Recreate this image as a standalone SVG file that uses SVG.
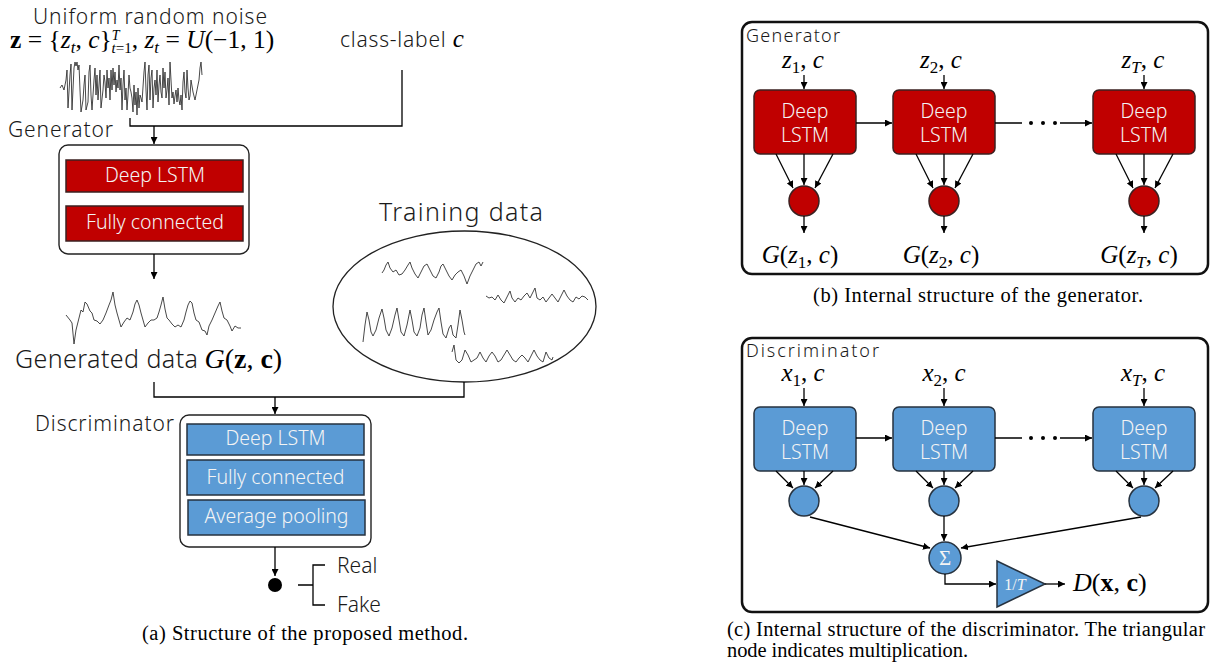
<svg xmlns="http://www.w3.org/2000/svg" width="1231" height="668" viewBox="0 0 1231 668">
<defs>
<style>
.s{font-family:"Noto Sans","Liberation Sans",sans-serif;font-weight:300;fill:#1a1a1a}
.w{font-family:"Noto Sans","Liberation Sans",sans-serif;font-weight:300;fill:#f4f4f4}
.m{font-family:"Liberation Serif","DejaVu Serif",serif;font-style:italic;fill:#000}
.n{font-style:normal}
.cap{font-family:"Liberation Serif","Times New Roman",serif;font-size:20.5px;fill:#000}
.ln{fill:none;stroke:#000;stroke-width:1.3}
.wave{fill:none;stroke:#333;stroke-width:0.9;stroke-linejoin:round}
.red{fill:#C00000;stroke:#3b2020;stroke-width:1.5}
.blue{fill:#5B9BD5;stroke:#26323f;stroke-width:1.5}
.frame{fill:#fff;stroke:#222;stroke-width:1.4}
.panel{fill:none;stroke:#111;stroke-width:2.5}
</style>
<marker id="ah" viewBox="0 0 10 10" refX="10" refY="5" markerWidth="7" markerHeight="7" markerUnits="userSpaceOnUse" orient="auto"><path d="M0,0 L10,5 L0,10 z" fill="#000"/></marker>
</defs>
<rect width="1231" height="668" fill="#fff"/>

<!-- ===== Panel (a) ===== -->
<g id="noise">
<text class="s" x="33" y="24" font-size="21" textLength="234" lengthAdjust="spacing">Uniform random noise</text>
<text class="m" x="10" y="48" font-size="25.5"><tspan class="n" font-weight="bold">z</tspan><tspan class="n"> = {</tspan>z<tspan font-size="17" dy="5">t</tspan><tspan class="n" dy="-5">, </tspan>c<tspan class="n">}</tspan><tspan font-size="14" dy="-8">T</tspan><tspan font-size="15" dx="-8" dy="13">t</tspan><tspan class="n" font-size="15">=1</tspan><tspan class="n" dy="-5">, </tspan>z<tspan font-size="17" dy="5">t</tspan><tspan class="n" dy="-5"> = </tspan>U<tspan class="n">(−1, 1)</tspan></text>
<polyline class="wave" points="60,88 62,85 64,90 66,80 67,70 68,108 70,75 71,64 72,110 74,68 75,62 76,66 77,62 78,70 79,65 80,90 81,112 83,100 84,85 85,75 86,110 88,102 89,72 90,65 91,95 92,110 94,80 95,68 96,95 97,75 98,100 99,85 100,70 101,108 103,90 104,75 105,82 106,98 107,70 108,88 109,78 110,100 111,70 112,90 113,68 114,85 115,72 116,92 117,80 118,88 119,65 120,90 121,78 122,110 123,85 124,70 125,100 126,88 127,110 128,95 129,75 130,88 131,92 132,98 133,112 134,85 135,105 136,92 137,115 138,88 139,108 140,95 141,98 142,102 144,72 145,62 146,90 147,110 148,75 149,65 150,100 151,78 152,70 153,108 154,88 155,80 156,95 157,70 158,102 159,85 160,75 161,92 162,98 163,68 164,88 165,72 166,98 167,90 168,78 169,105 170,62 171,80 172,98 173,92 174,104 175,96 176,90 177,102 178,88 179,100 180,105 181,95 182,110 183,82 184,72 185,92 186,98 187,70 188,88 189,100 190,96 191,80 193,92 195,100 197,90 199,80 200,68 201,62 202,75"/>
</g>
<g id="class-label">
<text x="340" y="47" font-size="21"><tspan class="s" textLength="112">class-label </tspan><tspan class="m" font-size="25">c</tspan></text>
</g>

<g id="generator-a">
<text class="s" x="8" y="137" font-size="21" textLength="105" lengthAdjust="spacing">Generator</text>
<rect class="frame" x="59" y="145" width="190" height="109" rx="9"/>
<rect class="red" x="66" y="160" width="177" height="32"/>
<text class="w" x="155" y="182" font-size="19.5" text-anchor="middle">Deep LSTM</text>
<rect class="red" x="66" y="206" width="177" height="35"/>
<text class="w" x="155" y="229" font-size="19.5" text-anchor="middle">Fully connected</text>
</g>

<g id="generated-data">
<polyline class="wave" points="66,315 70,320 72,323 74,344 76,330 79,318 81,310 83,312 85,302 87,304 90,311 92,313 94,320 97,321 100,324 103,320 106,313 109,305 111,300 113,292 115,305 117,313 119,320 121,327 124,322 127,318 130,320 133,312 135,304 137,300 139,305 141,313 143,320 145,327 148,323 151,320 154,320 157,318 159,312 161,305 163,297 165,309 167,318 169,320 172,324 175,327 178,325 181,327 184,320 186,312 188,305 190,301 192,303 194,313 196,320 199,322 202,330 205,331 207,335 209,326 212,320 215,313 218,306 220,302 222,311 224,318 227,320 230,326 232,331 235,326 238,328 241,328"/>
<text x="15" y="368" font-size="25"><tspan class="s" textLength="183" lengthAdjust="spacing">Generated data</tspan><tspan class="m" font-size="28" dx="6">G</tspan><tspan class="m n" font-size="28">(</tspan><tspan class="m n" font-size="28" font-weight="bold">z</tspan><tspan class="m n" font-size="28">, </tspan><tspan class="m n" font-size="28" font-weight="bold">c</tspan><tspan class="m n" font-size="28">)</tspan></text>
</g>

<g id="training-data">
<text class="s" x="379" y="221" font-size="25" textLength="164" lengthAdjust="spacing">Training data</text>
<ellipse cx="464.5" cy="306.5" rx="131.5" ry="75.5" fill="none" stroke="#222" stroke-width="1.3"/>
<polyline class="wave" points="382,273 384,270 386,265 388,262 390,268 393,272 396,270 399,275 402,274 405,270 408,265 410,262 412,268 415,274 418,278 421,272 424,266 427,264 430,270 433,276 436,278 439,272 441,266 443,264 446,270 449,276 452,280 455,275 458,272 461,270 464,276 467,284 470,276 473,270 476,264 479,262 481,266 483,262"/>
<polyline class="wave" points="486,296 489,298 492,297 495,300 498,295 501,300 504,303 507,297 510,291 512,298 515,302 518,298 521,300 524,296 527,293 530,298 533,292 535,288 537,298 540,300 543,297 546,302 549,298 552,294 555,298 558,302 561,296 564,290 567,296 570,300 573,302 576,297 579,299 582,296 585,297 588,300"/>
<polyline class="wave" points="363,342 365,325 367,312 369,320 371,332 373,336 376,330 379,318 382,309 384,318 386,330 389,336 392,328 395,315 397,308 399,320 401,332 404,336 407,325 410,310 412,320 414,332 417,336 420,328 422,315 424,308 426,322 428,335 431,330 434,320 437,312 439,308 441,322 443,334 446,338 449,328 451,325 453,335 456,338 458,325 460,310 462,320 464,332 465,335"/>
<polyline class="wave" points="452,352 454,345 456,360 459,363 462,360 465,350 468,355 471,362 474,360 477,358 480,352 483,358 486,362 489,356 492,352 495,356 498,362 501,360 504,355 507,350 510,355 513,360 516,362 519,358 522,355 525,358 528,362 531,356 534,350 537,356 540,360 543,362 546,352 549,358 552,360 553,357"/>
</g>

<g id="discriminator-a">
<text class="s" x="35" y="431" font-size="21" textLength="139" lengthAdjust="spacing">Discriminator</text>
<rect class="frame" x="180" y="415" width="191" height="132" rx="9"/>
<rect class="blue" x="187" y="424" width="177" height="31"/>
<text class="w" x="275.5" y="445" font-size="19.5" text-anchor="middle">Deep LSTM</text>
<rect class="blue" x="187" y="460" width="177" height="35"/>
<text class="w" x="275.5" y="484" font-size="19.5" text-anchor="middle">Fully connected</text>
<rect class="blue" x="188" y="500" width="177" height="35"/>
<text class="w" x="276.5" y="523" font-size="19.5" text-anchor="middle">Average pooling</text>
</g>

<g id="output-a">
<circle cx="275" cy="585" r="7" fill="#000"/>
<path class="ln" d="M298,585 H313 M325,565 H313 V605 H325"/>
<text class="s" x="337" y="573" font-size="21">Real</text>
<text class="s" x="337" y="612" font-size="21">Fake</text>
</g>

<g id="connectors-a">
<path class="ln" d="M130,118 V126 H402 V70"/>
<path class="ln" d="M154,126 V144" marker-end="url(#ah)"/>
<path class="ln" d="M154,254 V279" marker-end="url(#ah)"/>
<path class="ln" d="M154,382 V397 H464 V382"/>
<path class="ln" d="M275,397 V414" marker-end="url(#ah)"/>
<path class="ln" d="M275,547 V576" marker-end="url(#ah)"/>
</g>

<text class="cap" x="142" y="640" textLength="326" lengthAdjust="spacing">(a) Structure of the proposed method.</text>

<!-- ===== Panel (b) ===== -->
<g id="panel-b">
<rect class="panel" x="742" y="22" width="466" height="252" rx="10"/>
<text class="s" x="746" y="42" font-size="18" textLength="94" lengthAdjust="spacing">Generator</text>
</g>
<g id="gen-inputs">
<text class="m" x="803" y="68" font-size="25" text-anchor="middle">z<tspan class="n" font-size="17" dy="5">1</tspan><tspan class="n" dy="-5">, </tspan>c</text>
<text class="m" x="941" y="68" font-size="25" text-anchor="middle">z<tspan class="n" font-size="17" dy="5">2</tspan><tspan class="n" dy="-5">, </tspan>c</text>
<text class="m" x="1143" y="68" font-size="25" text-anchor="middle">z<tspan font-size="17" dy="5">T</tspan><tspan class="n" dy="-5">, </tspan>c</text>
</g>
<g id="gen-lstm-1">
<rect class="red" x="754" y="90" width="102" height="64" rx="6"/>
<text class="w" x="805" y="118" font-size="19.5" text-anchor="middle">Deep</text>
<text class="w" x="805" y="142" font-size="19.5" text-anchor="middle">LSTM</text>
<circle class="red" cx="804" cy="201" r="15"/>
</g>
<g id="gen-lstm-2">
<rect class="red" x="893" y="90" width="102" height="64" rx="6"/>
<text class="w" x="944" y="118" font-size="19.5" text-anchor="middle">Deep</text>
<text class="w" x="944" y="142" font-size="19.5" text-anchor="middle">LSTM</text>
<circle class="red" cx="944" cy="201" r="15"/>
</g>
<g id="gen-lstm-T">
<rect class="red" x="1093" y="90" width="102" height="64" rx="6"/>
<text class="w" x="1144" y="118" font-size="19.5" text-anchor="middle">Deep</text>
<text class="w" x="1144" y="142" font-size="19.5" text-anchor="middle">LSTM</text>
<circle class="red" cx="1144" cy="201" r="15"/>
</g>
<g id="gen-outputs">
<text class="m" x="800" y="263" font-size="25" text-anchor="middle">G<tspan class="n">(</tspan>z<tspan class="n" font-size="17" dy="5">1</tspan><tspan class="n" dy="-5">, </tspan>c<tspan class="n">)</tspan></text>
<text class="m" x="941" y="263" font-size="25" text-anchor="middle">G<tspan class="n">(</tspan>z<tspan class="n" font-size="17" dy="5">2</tspan><tspan class="n" dy="-5">, </tspan>c<tspan class="n">)</tspan></text>
<text class="m" x="1139" y="263" font-size="25" text-anchor="middle">G<tspan class="n">(</tspan>z<tspan font-size="17" dy="5">T</tspan><tspan class="n" dy="-5">, </tspan>c<tspan class="n">)</tspan></text>
</g>
<g id="connectors-b">
<path class="ln" d="M804,75 V89" marker-end="url(#ah)"/>
<path class="ln" d="M944,75 V89" marker-end="url(#ah)"/>
<path class="ln" d="M1144,75 V89" marker-end="url(#ah)"/>
<path class="ln" d="M856,123 H892" marker-end="url(#ah)"/>
<path class="ln" d="M995,123 H1022 M1060,123 H1092" marker-end="url(#ah)"/>
<circle cx="1031" cy="123" r="2" fill="#000"/><circle cx="1043" cy="123" r="2" fill="#000"/><circle cx="1055" cy="123" r="2" fill="#000"/>
<path class="ln" d="M776,154 L793,188" marker-end="url(#ah)"/>
<path class="ln" d="M804,154 V185" marker-end="url(#ah)"/>
<path class="ln" d="M833,154 L815,188" marker-end="url(#ah)"/>
<path class="ln" d="M916,154 L933,188" marker-end="url(#ah)"/>
<path class="ln" d="M944,154 V185" marker-end="url(#ah)"/>
<path class="ln" d="M973,154 L955,188" marker-end="url(#ah)"/>
<path class="ln" d="M1116,154 L1133,188" marker-end="url(#ah)"/>
<path class="ln" d="M1144,154 V185" marker-end="url(#ah)"/>
<path class="ln" d="M1173,154 L1155,188" marker-end="url(#ah)"/>
<path class="ln" d="M804,216 V233" marker-end="url(#ah)"/>
<path class="ln" d="M944,216 V233" marker-end="url(#ah)"/>
<path class="ln" d="M1144,216 V233" marker-end="url(#ah)"/>
</g>
<text class="cap" x="813" y="302" textLength="330" lengthAdjust="spacing">(b) Internal structure of the generator.</text>

<!-- ===== Panel (c) ===== -->
<g id="panel-c">
<rect class="panel" x="742" y="338" width="466" height="274" rx="10"/>
<text class="s" x="746" y="357" font-size="18" textLength="133" lengthAdjust="spacing">Discriminator</text>
</g>
<g id="disc-inputs">
<text class="m" x="803" y="381" font-size="25" text-anchor="middle">x<tspan class="n" font-size="17" dy="5">1</tspan><tspan class="n" dy="-5">, </tspan>c</text>
<text class="m" x="944" y="381" font-size="25" text-anchor="middle">x<tspan class="n" font-size="17" dy="5">2</tspan><tspan class="n" dy="-5">, </tspan>c</text>
<text class="m" x="1143" y="381" font-size="25" text-anchor="middle">x<tspan font-size="17" dy="5">T</tspan><tspan class="n" dy="-5">, </tspan>c</text>
</g>
<g id="disc-lstm-1">
<rect class="blue" x="754" y="407" width="102" height="64" rx="6"/>
<text class="w" x="805" y="435" font-size="19.5" text-anchor="middle">Deep</text>
<text class="w" x="805" y="459" font-size="19.5" text-anchor="middle">LSTM</text>
<circle class="blue" cx="804" cy="501" r="15"/>
</g>
<g id="disc-lstm-2">
<rect class="blue" x="893" y="407" width="102" height="64" rx="6"/>
<text class="w" x="944" y="435" font-size="19.5" text-anchor="middle">Deep</text>
<text class="w" x="944" y="459" font-size="19.5" text-anchor="middle">LSTM</text>
<circle class="blue" cx="944" cy="501" r="15"/>
</g>
<g id="disc-lstm-T">
<rect class="blue" x="1093" y="407" width="102" height="64" rx="6"/>
<text class="w" x="1144" y="435" font-size="19.5" text-anchor="middle">Deep</text>
<text class="w" x="1144" y="459" font-size="19.5" text-anchor="middle">LSTM</text>
<circle class="blue" cx="1144" cy="501" r="15"/>
</g>
<g id="sum">
<circle class="blue" cx="945" cy="558" r="16"/>
<text x="945" y="565" font-size="21" font-family="Liberation Serif,serif" fill="#f4f4f4" text-anchor="middle">Σ</text>
</g>
<g id="mult">
<polygon class="blue" points="997,561 997,607 1045,584"/>
<text x="1015" y="590" font-size="16" text-anchor="middle" fill="#f4f4f4" font-family="Liberation Serif,serif">1/<tspan font-style="italic">T</tspan></text>
</g>
<g id="disc-output">
<text class="m" x="1073" y="591" font-size="26">D<tspan class="n">(</tspan><tspan class="n" font-weight="bold">x</tspan><tspan class="n">, </tspan><tspan class="n" font-weight="bold">c</tspan><tspan class="n">)</tspan></text>
</g>
<g id="connectors-c">
<path class="ln" d="M804,388 V406" marker-end="url(#ah)"/>
<path class="ln" d="M944,388 V406" marker-end="url(#ah)"/>
<path class="ln" d="M1144,388 V406" marker-end="url(#ah)"/>
<path class="ln" d="M856,438 H892" marker-end="url(#ah)"/>
<path class="ln" d="M995,438 H1022 M1060,438 H1092" marker-end="url(#ah)"/>
<circle cx="1031" cy="438" r="2" fill="#000"/><circle cx="1043" cy="438" r="2" fill="#000"/><circle cx="1055" cy="438" r="2" fill="#000"/>
<path class="ln" d="M776,471 L793,488" marker-end="url(#ah)"/>
<path class="ln" d="M804,471 V485" marker-end="url(#ah)"/>
<path class="ln" d="M833,471 L815,488" marker-end="url(#ah)"/>
<path class="ln" d="M916,471 L933,488" marker-end="url(#ah)"/>
<path class="ln" d="M944,471 V485" marker-end="url(#ah)"/>
<path class="ln" d="M973,471 L955,488" marker-end="url(#ah)"/>
<path class="ln" d="M1116,471 L1133,488" marker-end="url(#ah)"/>
<path class="ln" d="M1144,471 V485" marker-end="url(#ah)"/>
<path class="ln" d="M1173,471 L1155,488" marker-end="url(#ah)"/>
<path class="ln" d="M810,517 L930,548" marker-end="url(#ah)"/>
<path class="ln" d="M944,516 V541" marker-end="url(#ah)"/>
<path class="ln" d="M1141,517 L961,548" marker-end="url(#ah)"/>
<path class="ln" d="M945,574 V584 H996" marker-end="url(#ah)"/>
<path class="ln" d="M1045,584 H1065" marker-end="url(#ah)"/>
</g>
<text class="cap" x="727" y="636" textLength="478" lengthAdjust="spacing">(c) Internal structure of the discriminator. The triangular</text>
<text class="cap" x="727" y="657" textLength="241" lengthAdjust="spacing">node indicates multiplication.</text>
</svg>
